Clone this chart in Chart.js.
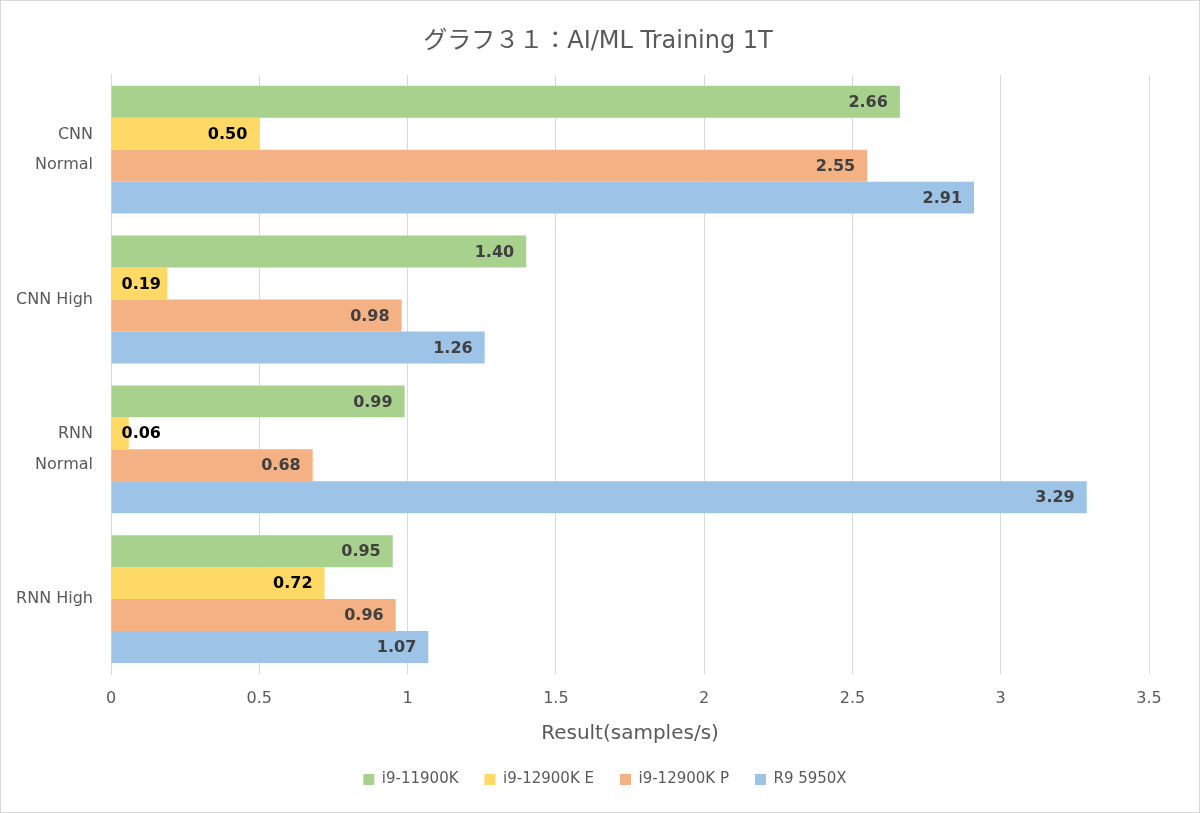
<!DOCTYPE html>
<html>
<head>
<meta charset="utf-8">
<script src="https://cdn.jsdelivr.net/npm/chart.js@4/dist/chart.umd.min.js"></script>
<style>
  html, body { margin: 0; padding: 0; background: #fff; }
  #wrap { position: relative; width: 1198px; height: 811px; border: 1px solid #d9d9d9; }
</style>
</head>
<body>
<div id="wrap"><canvas id="chart"></canvas></div>
<script>
// chart data
const categories = [["CNN", "Normal"], "CNN High", ["RNN", "Normal"], "RNN High"];
const seriesNames = ["i9-11900K", "i9-12900K E", "i9-12900K P", "R9 5950X"];
const i9_11900K = [2.66, 1.40, 0.99, 0.95];
const i9_12900K_E = [0.50, 0.19, 0.06, 0.72];
const i9_12900K_P = [2.55, 0.98, 0.68, 0.96];
const r9_5950X = [2.91, 1.26, 3.29, 1.07];
const colors = ["#a9d18e", "#ffd966", "#f4b183", "#9dc3e6"];
const labelColors = ["#404040", "#000000", "#404040", "#404040"];

const fontFamily = "'DejaVu Sans', 'Noto Sans CJK JP', sans-serif";
const textGray = "#595959";

// draws value labels at the inner end of each bar (or just after the base if it doesn't fit)
const valueLabels = {
    id: "valueLabels",
    afterDatasetsDraw(chart) {
        const ctx = chart.ctx;
        ctx.save();
        ctx.font = "bold 16px " + fontFamily;
        ctx.textBaseline = "middle";
        chart.data.datasets.forEach((ds, i) => {
            const meta = chart.getDatasetMeta(i);
            meta.data.forEach((bar, j) => {
                const txt = ds.data[j].toFixed(2);
                const w = ctx.measureText(txt).width;
                ctx.fillStyle = labelColors[i];
                if (bar.x - bar.base < w + 20) {
                    ctx.textAlign = "left";
                    ctx.fillText(txt, bar.base + 10, bar.y + 1);
                } else {
                    ctx.textAlign = "right";
                    ctx.fillText(txt, bar.x - 12, bar.y + 1);
                }
            });
        });
        ctx.restore();
    }
};

// nudge title and legend so they sit centred like the original
const shiftBoxes = {
    id: "shiftBoxes",
    afterLayout(chart) {
        if (chart.titleBlock) chart.titleBlock.left += 46;
        if (chart.legend) chart.legend.left += 60;
    }
};

const allSeries = [i9_11900K, i9_12900K_E, i9_12900K_P, r9_5950X];

const chartData = {
    labels: categories,
    datasets: allSeries.map((values, i) => ({
        label: seriesNames[i],
        data: values,
        backgroundColor: colors[i],
        borderWidth: 0,
        categoryPercentage: 0.853,
        barPercentage: 1.0
    }))
};

const chartOptions = {
    indexAxis: "y",
    responsive: true,
    maintainAspectRatio: false,
    animation: false,
    layout: { padding: { left: 0, right: 50, top: 10, bottom: 15 } },
    scales: {
        x: {
            min: 0,
            max: 3.5,
            ticks: {
                stepSize: 0.5,
                color: textGray,
                font: { family: fontFamily, size: 16 },
                padding: 15,
                callback: (v) => String(v)
            },
            grid: { color: "#d9d9d9", drawTicks: false },
            border: { display: false },
            title: {
                display: true,
                text: "Result(samples/s)",
                color: textGray,
                font: { family: fontFamily, size: 20 },
                padding: { top: 0, bottom: 0 }
            },
            afterFit(scale) { scale.height = 72; }
        },
        y: {
            ticks: {
                color: textGray,
                font: { family: fontFamily, size: 16, lineHeight: 1.9 },
                padding: 10
            },
            grid: { display: false },
            border: { color: "#d9d9d9" },
            afterFit(scale) { scale.width = 110; }
        }
    },
    plugins: {
        title: {
            display: true,
            text: "グラフ３１：AI/ML Training 1T",
            color: textGray,
            font: { family: fontFamily, size: 24, weight: "normal" },
            padding: { top: 16, bottom: 19 }
        },
        legend: {
            position: "bottom",
            labels: {
                boxWidth: 11,
                boxHeight: 11,
                color: textGray,
                font: { family: fontFamily, size: 15 },
                padding: 26
            }
        },
        tooltip: { enabled: false }
    }
};

const ctx = document.getElementById("chart").getContext("2d");
new Chart(ctx, {
    type: "bar",
    data: chartData,
    options: chartOptions,
    plugins: [valueLabels, shiftBoxes]
});
</script>
</body>
</html>
